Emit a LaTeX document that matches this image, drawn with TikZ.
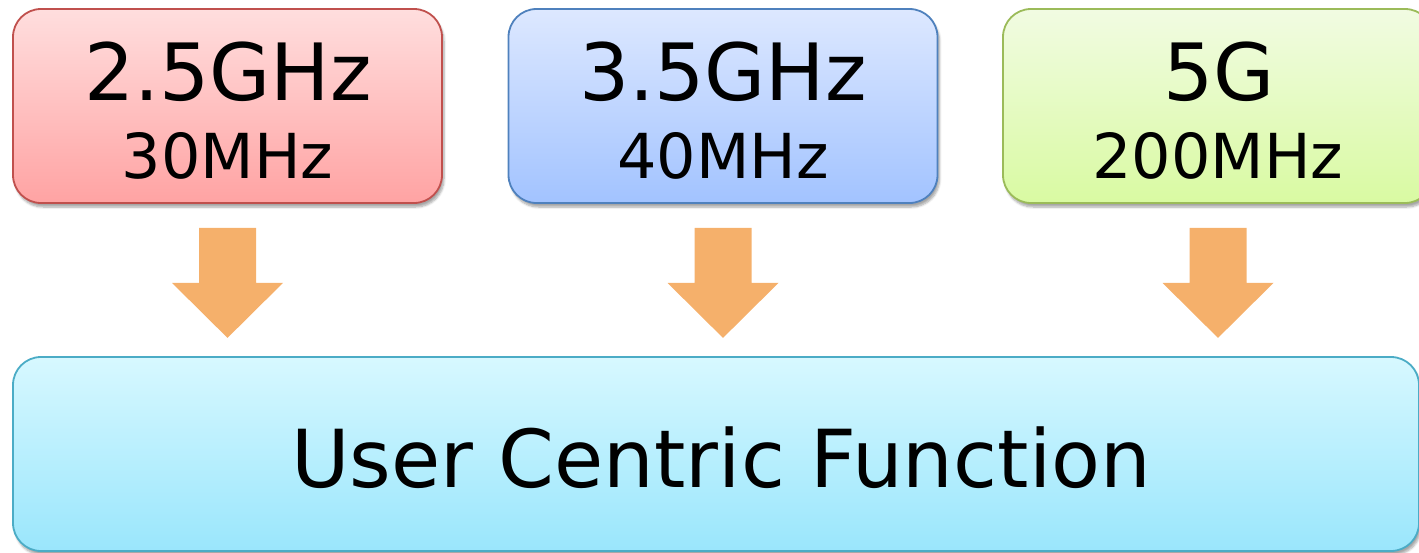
\documentclass[tikz,border=0pt]{standalone}
\usepackage{fontspec}
\setmainfont{DejaVu Sans}
\usetikzlibrary{calc,shadows.blur}

\definecolor{redline}{HTML}{C0504D}
\definecolor{redtop}{HTML}{FFDEDE}
\definecolor{redbot}{HTML}{FFA3A3}
\definecolor{blueline}{HTML}{4F81BD}
\definecolor{bluetop}{HTML}{DDE8FF}
\definecolor{bluebot}{HTML}{A2C3FF}
\definecolor{greenline}{HTML}{9BBB59}
\definecolor{greentop}{HTML}{F1FBE2}
\definecolor{greenbot}{HTML}{D9FAA2}
\definecolor{cyanline}{HTML}{4BACC6}
\definecolor{cyantop}{HTML}{D7F8FF}
\definecolor{cyanbot}{HTML}{9AE6FC}
\definecolor{arrowfill}{HTML}{F5B06B}

\tikzset{
  band/.style={rounded corners=28pt, line width=1.8pt,
    minimum width=429pt, minimum height=194pt, inner sep=0pt,
    blur shadow={shadow xshift=2pt, shadow yshift=-4pt, shadow blur steps=6, shadow opacity=35}},
  bigtxt/.style={anchor=base, inner sep=0pt, font=\fontsize{79}{88}\selectfont},
  smalltxt/.style={anchor=base, inner sep=0pt, font=\fontsize{62}{70}\selectfont},
  mergetxt/.style={anchor=base, inner sep=0pt, font=\fontsize{80}{90}\selectfont},
  blockarrow/.style={fill=arrowfill, draw=none}
}

\begin{document}
\begin{tikzpicture}[x=1pt,y=-1pt]
  \useasboundingbox (0,0) rectangle (1419,552);
  \clip (0,0) rectangle (1419,552);

  % frequency bands
  \node[band, draw=redline, top color=redtop, bottom color=redbot] (b1) at (227.5,106) {};
  \node[band, draw=blueline, top color=bluetop, bottom color=bluebot] (b2) at (723,106) {};
  \node[band, draw=greenline, top color=greentop, bottom color=greenbot, minimum width=430pt] (b3) at (1218,106) {};

  \node[bigtxt] (t1a) at (228,100) {2.5GHz};
  \node[smalltxt] (t1b) at (227.5,178) {30MHz};
  \node[bigtxt] (t2a) at (723,100) {3.5GHz};
  \node[smalltxt] (t2b) at (723,178) {40MHz};
  \node[bigtxt] (t3a) at (1219,100) {5G};
  \node[smalltxt] (t3b) at (1218,178) {200MHz};

  % common function
  \node[band, draw=cyanline, top color=cyantop, bottom color=cyanbot,
        minimum width=1406pt] (ucf) at (716,454) {};
  \node[mergetxt] (ucft) at (721,487) {User Centric Function};

  % block arrows from each band down to the common function
  \foreach \b in {b1,b2,b3}{
    \fill[blockarrow]
      ($(\b.south)+(-28.5,24)$) -- ($(\b.south)+(28.5,24)$) --
      ($(\b.south)+(28.5,79)$) -- ($(\b.south)+(55.5,79)$) --
      ($(\b.south)+(0,134)$) -- ($(\b.south)+(-55.5,79)$) --
      ($(\b.south)+(-28.5,79)$) -- cycle;
  }
\end{tikzpicture}
\end{document}
